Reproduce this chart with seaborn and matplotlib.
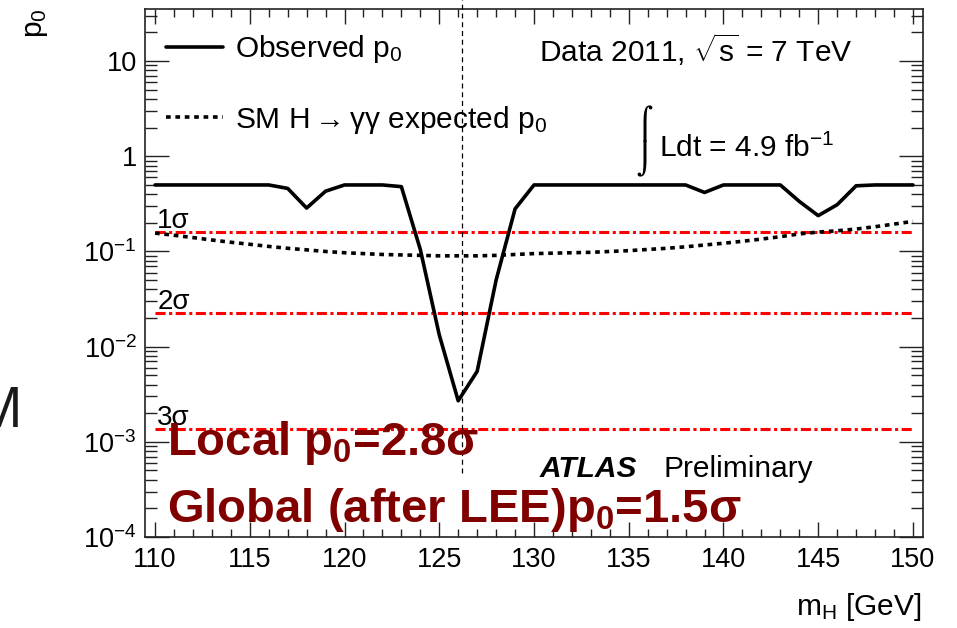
import matplotlib
matplotlib.use("Agg")
import matplotlib.pyplot as plt
import seaborn as sns
import pandas as pd
from matplotlib.ticker import FixedLocator, FixedFormatter, MultipleLocator, NullFormatter

# ---------------- data ----------------
masses = list(range(110, 151))
observed_p0 = [0.5, 0.5, 0.5, 0.5, 0.5, 0.5, 0.5,           # 110-116
               0.46, 0.286, 0.43,                            # 117-119
               0.5, 0.5, 0.5,                                # 120-122
               0.48, 0.105, 0.0133, 0.0027, 0.0055, 0.050, 0.28,  # 123-129
               0.5, 0.5, 0.5, 0.5, 0.5, 0.5, 0.5, 0.5, 0.5,  # 130-138
               0.417,                                        # 139
               0.5, 0.5, 0.5, 0.5,                           # 140-143
               0.336, 0.238, 0.31, 0.49,                     # 144-147
               0.5, 0.5, 0.5]                                # 148-150
expected_p0 = [0.156, 0.148, 0.140, 0.132, 0.125, 0.119, 0.113, 0.108, 0.104, 0.100,
               0.097, 0.095, 0.093, 0.092, 0.091, 0.090, 0.090, 0.090, 0.091, 0.093,
               0.095, 0.096, 0.097, 0.098, 0.100, 0.102, 0.105, 0.108, 0.112, 0.117,
               0.122, 0.128, 0.135, 0.143, 0.153, 0.160, 0.165, 0.172, 0.182, 0.194,
               0.207]
sigma_levels = [0.1587, 0.02275, 0.00135]
sigma_labels = ["1σ", "2σ", "3σ"]
marker_mass = 126.2
marker_span = (4.7e-4, 44.0)
x_ticks = [110, 115, 120, 125, 130, 135, 140, 145, 150]
y_ticks = [1e-4, 1e-3, 1e-2, 1e-1, 1, 10]
y_tick_labels = ["$10^{-4}$", "$10^{-3}$", "$10^{-2}$", "$10^{-1}$", "1", "10"]

df = pd.DataFrame({"mH": masses, "observed": observed_p0, "expected": expected_p0})

# ---------------- style ----------------
sns.set_style("ticks")
plt.rcParams["font.family"] = ["Liberation Sans", "DejaVu Sans"]
plt.rcParams["mathtext.fontset"] = "custom"
plt.rcParams["mathtext.rm"] = "Liberation Sans"
plt.rcParams["mathtext.it"] = "Liberation Sans:italic"
plt.rcParams["mathtext.bf"] = "Liberation Sans:bold"
plt.rcParams["text.color"] = "black"
plt.rcParams["xtick.color"] = "black"
plt.rcParams["ytick.color"] = "black"
plt.rcParams["xtick.labelcolor"] = "black"
plt.rcParams["ytick.labelcolor"] = "black"

W, H = 957, 628
fig = plt.figure(figsize=(W / 100, H / 100), dpi=100)
ax = fig.add_axes([145 / W, 1 - 537 / H, (923 - 145) / W, (537 - 9) / H])

def fx(px):
    return px / W

def fy(py):
    return 1 - py / H

TFS = 19.5   # tick labels
FS = 21.5    # annotations / legend

# sigma lines
for lev, lab in zip(sigma_levels, sigma_labels):
    ax.hlines(lev, masses[0], masses[-1], colors="#ff0000", lw=2.2,
              linestyles=[(0, (3.3, 1.15, 1.0, 1.15))], zorder=2)
    ax.annotate(lab, xy=(masses[0], lev), xytext=(1.5, 3), textcoords="offset points",
                fontsize=20, va="baseline", ha="left", color="black")

sns.lineplot(data=df, x="mH", y="observed", ax=ax, color="black", lw=2.6,
             label="Observed p$_0$", zorder=4)
sns.lineplot(data=df, x="mH", y="expected", ax=ax, color="black", lw=2.6,
             linestyle=(0, (1.3, 1.3)),
             label="SM H$\\rightarrow$γγ expected p$_0$", zorder=3)

# vertical marker line
ax.plot([marker_mass, marker_mass], list(marker_span), color="black", lw=0.9,
        linestyle=(0, (4, 3)), clip_on=False, zorder=5)

ax.set_yscale("log")
ax.set_xlim(109.47, 150.53)
ax.set_ylim(1e-4, 35.3)

ax.xaxis.set_major_locator(FixedLocator(x_ticks))
ax.xaxis.set_minor_locator(MultipleLocator(1))
ax.yaxis.set_major_locator(FixedLocator(y_ticks))
ax.yaxis.set_major_formatter(FixedFormatter(y_tick_labels))
ax.yaxis.set_minor_locator(matplotlib.ticker.LogLocator(base=10, subs=range(2, 10)))
ax.yaxis.set_minor_formatter(NullFormatter())

ax.tick_params(which="both", direction="in", top=True, right=True, width=1.0,
               color="#222222", labelsize=TFS, labelcolor="black")
ax.tick_params(axis="x", which="major", length=11, pad=7)
ax.tick_params(axis="x", which="minor", length=5.5)
ax.tick_params(axis="y", which="major", length=17, pad=6)
ax.tick_params(axis="y", which="minor", length=8.5)
for s in ax.spines.values():
    s.set_linewidth(1.2)
    s.set_color("#222222")

ax.set_xlabel("")
ax.set_ylabel("")

leg = ax.legend(loc="upper left", bbox_to_anchor=(fx(166), fy(33)),
                bbox_transform=fig.transFigure, frameon=False, fontsize=FS,
                borderpad=0, borderaxespad=0, handlelength=1.9,
                handletextpad=0.4, labelspacing=1.3)
for t in leg.get_texts():
    t.set_color("black")

# texts
fig.text(fx(539), fy(62), "Data 2011, $\\sqrt{\\mathregular{s}}$ = 7 TeV", fontsize=FS,
         va="baseline")
fig.text(fx(636), fy(133.6), "⌠", fontsize=22.3, va="baseline", family=["DejaVu Sans"])
fig.text(fx(636), fy(169.7), "⌡", fontsize=22.3, va="baseline", family=["DejaVu Sans"])
fig.text(fx(659), fy(157), "Ldt = 4.9 fb$^{-1}$", fontsize=FS, va="baseline")
fig.text(fx(540), fy(477), "ATLAS", fontsize=FS, weight="bold", style="italic", va="baseline")
fig.text(fx(663), fy(477), "Preliminary", fontsize=FS, va="baseline")
fig.text(fx(922), fy(615), "m$_\\mathregular{H}$ [GeV]", fontsize=FS, ha="right", va="baseline")
fig.text(fx(36), fy(8), "p$_0$", fontsize=FS, rotation=90, ha="center", va="top")
fig.text(fx(22), fy(427), "M", fontsize=41, ha="right", va="baseline", color="#1a1a1a")

fig.text(fx(167), fy(455), "Local p$_\\mathbf{0}$=2.8σ", fontsize=34, weight="bold",
         color="#800000", va="baseline")
fig.text(fx(167), fy(522), "Global (after LEE)p$_\\mathbf{0}$=1.5σ", fontsize=34,
         weight="bold", color="#800000", va="baseline")

fig.savefig("out.png", dpi=100)
